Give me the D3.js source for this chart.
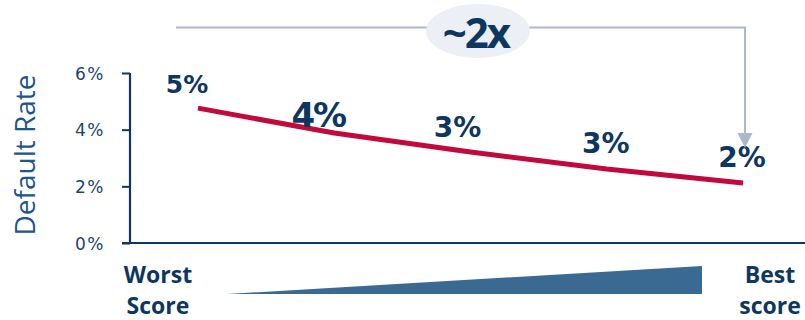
<!DOCTYPE html>
<html>
<head>
<meta charset="utf-8">
<script src="https://cdn.jsdelivr.net/npm/d3@7"></script>
<style>
  body { margin: 0; background: #fff; }
  svg { display: block; }
</style>
</head>
<body>
<svg width="805" height="320"></svg>
<script>
// chart data
const buckets = ["b1", "b2", "b3", "b4", "b5"];
const defaultRate = [4.76, 3.88, 3.21, 2.61, 2.12];
const rateLabels = ["5%", "4%", "3%", "3%", "2%"];
const yTicks = [0, 2, 4, 6];
const multiplierText = "~2x";

const navy = "#0d3760";
const svg = d3.select("svg");

const x = d3.scalePoint().domain(buckets).range([198, 743]);
const y = d3.scaleLinear().domain([0, 6]).range([243, 73]);

// y axis
const yAxis = svg.append("g")
    .attr("transform", "translate(130,0)")
    .call(d3.axisLeft(y).tickValues(yTicks).tickSize(8).tickFormat(d => d + "%"));
yAxis.select(".domain").attr("stroke", navy).attr("stroke-width", 2.2).attr("d", "M0,73V243");
yAxis.selectAll(".tick line").attr("stroke", navy).attr("stroke-width", 2);
yAxis.selectAll(".tick text")
    .attr("x", -25)
    .attr("dy", "0.36em")
    .attr("fill", "#1c4470")
    .style("font-family", "'DejaVu Sans', sans-serif")
    .style("font-size", "17px")
    .style("letter-spacing", "1.5px");

// x axis line
svg.append("line")
    .attr("x1", 122).attr("x2", 805)
    .attr("y1", y(0)).attr("y2", y(0))
    .attr("stroke", navy).attr("stroke-width", 2.2);

// y axis title
svg.append("text")
    .attr("transform", "translate(35,155) rotate(-90)")
    .attr("text-anchor", "middle")
    .attr("fill", "#21558a")
    .style("font-family", "'Open Sans', sans-serif")
    .style("font-size", "28px")
    .text("Default Rate");

// default rate line
const line = d3.line()
    .x((d, i) => x(buckets[i]))
    .y(d => y(d));
svg.append("path")
    .datum(defaultRate)
    .attr("d", line)
    .attr("fill", "none")
    .attr("stroke", "#c2093b")
    .attr("stroke-width", 5);

// value labels (placed relative to their points)
const labelOffset = [15, 6, 15, 16, 16];
const labelSize = [25, 34, 28, 28, 28];
const labelDx = [-11, -16, -13, -1, -1];
svg.selectAll(".val")
    .data(rateLabels)
    .join("text")
    .attr("class", "val")
    .attr("x", (d, i) => x(buckets[i]) + labelDx[i])
    .attr("y", (d, i) => y(defaultRate[i]) - labelOffset[i])
    .attr("text-anchor", "middle")
    .attr("fill", navy)
    .style("font-family", "'DejaVu Sans', sans-serif")
    .style("font-weight", "bold")
    .style("font-size", (d, i) => labelSize[i] + "px")
    .style("letter-spacing", (d, i) => i === 1 ? "-2px" : "0px")
    .text(d => d);

// ~2x annotation
const annY = 27.5;
const arrowX = x(buckets[buckets.length - 1]) + 2;
svg.append("path")
    .attr("d", `M176,${annY}H${arrowX}V136`)
    .attr("fill", "none")
    .attr("stroke", "#adb9cb")
    .attr("stroke-width", 2);
svg.append("path")
    .attr("d", `M${arrowX - 7.5},133L${arrowX + 7.5},133L${arrowX},148Z`)
    .attr("fill", "#adb9cb");
svg.append("ellipse")
    .attr("cx", 478).attr("cy", 31)
    .attr("rx", 52).attr("ry", 27)
    .attr("fill", "#eceff5");
svg.append("text")
    .attr("x", 476).attr("y", 48)
    .attr("text-anchor", "middle")
    .attr("fill", navy)
    .style("font-family", "'Open Sans', sans-serif")
    .style("font-weight", "bold")
    .style("font-size", "42px")
    .style("letter-spacing", "-2px")
    .text(multiplierText);

// score wedge
svg.append("path")
    .attr("d", "M227,294L702,266L702,294Z")
    .attr("fill", "#3a6a91");

const endLabel = (lines, cx) => {
  const t = svg.append("text")
      .attr("text-anchor", "middle")
      .attr("fill", navy)
      .style("font-family", "'Open Sans', sans-serif")
      .style("font-weight", "bold")
      .style("font-size", "23px");
  lines.forEach((s, i) => t.append("tspan").attr("x", cx).attr("y", 283 + i * 31).text(s));
};
endLabel(["Worst", "Score"], 158);
endLabel(["Best", "score"], 770);
</script>
</body>
</html>
